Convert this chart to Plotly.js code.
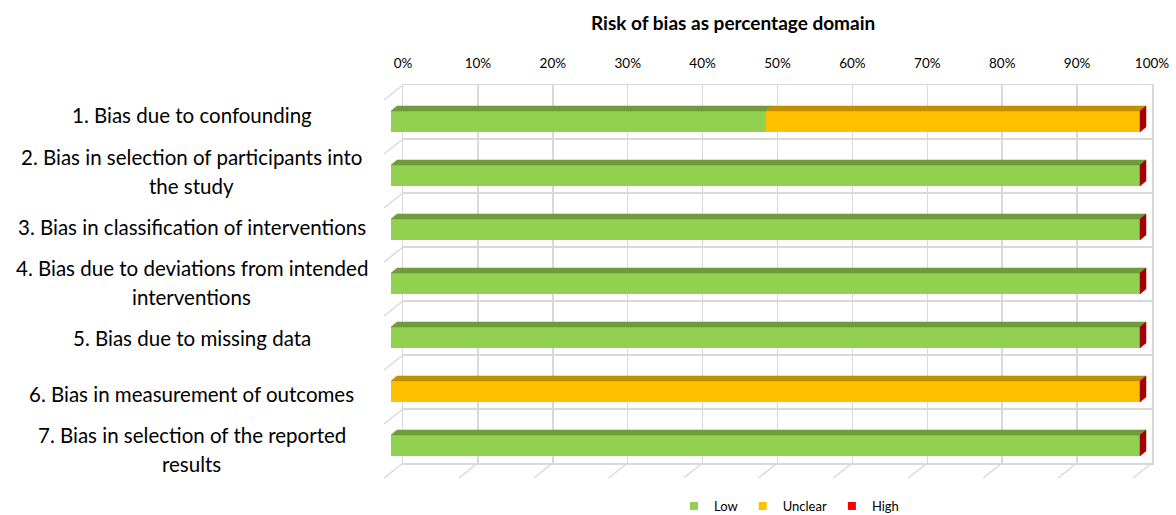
<!DOCTYPE html>
<html>
<head>
<meta charset="utf-8">
<script src="https://cdn.plot.ly/plotly-3.0.1.min.js"></script>
<style>html,body{margin:0;padding:0;background:#fff;}#chart{width:1176px;height:515px;}</style>
</head>
<body>
<div id="chart"></div>
<script>
// ---------- data ----------
const categories = [
  '1. Bias due to confounding',
  '2. Bias in selection of participants into<br>the study',
  '3. Bias in classification of interventions',
  '4. Bias due to deviations from intended<br>interventions',
  '5. Bias due to missing data',
  '6. Bias in measurement of outcomes',
  '7. Bias in selection of the reported<br>results'
];
const seriesNames = ['Low', 'Unclear', 'High'];
const lowValues     = [50, 100, 100, 100, 100,   0, 100];
const unclearValues = [50,   0,   0,   0,   0, 100,   0];
const highValues    = [ 0,   0,   0,   0,   0,   0,   0];
const xTickVals  = [0, 10, 20, 30, 40, 50, 60, 70, 80, 90, 100];
const xTickText  = ['0%', '10%', '20%', '30%', '40%', '50%', '60%', '70%', '80%', '90%', '100%'];
const chartTitle = 'Risk of bias as percentage domain';

// ---------- styles ----------
const W = 1176, H = 515;
const frontColors = ['#92D050', '#FFC000', '#FF0000'];
const topColors   = ['#6F9B3C', '#BF9000', '#BF0000'];
const sideColors  = ['#6A9A33', '#B08400', '#A50000'];
const legendColors = ['#92D050', '#FFC000', '#FF0000'];
const FONT = 'Lato, "Open Sans", sans-serif';
const gridColor = '#D9D9D9';

// back wall pixel box
const backL = 403, backR = 1152, backT = 85, backB = 463;
// front (bar) plane offset
const frontDX = -12, frontDY = 9.5;
const pxPerPct = (backR - backL) / 100;
const x2Max = 101.6;
const barWidth = 0.39;
const nCat = categories.length;
const pxPerCat = (backB - backT) / nCat;
const depthDX = 6 / pxPerPct;      // top-face depth in % units
const depthDY = 5 / pxPerCat;      // top-face depth in category units
const wallDX = -19, wallDY = 15;   // side wall / floor depth in px
// category label placement (px)
const labelCX = 192, labelTop = 115.5, labelStep = 55.7, lineGap = 29;

const seriesValues = [lowValues, unclearValues, highValues];
const idx = categories.map((_, i) => i);

const traces = [];
traces.push({x: [null], y: [null], xaxis: 'x', yaxis: 'y', type: 'scatter', mode: 'markers', showlegend: false, hoverinfo: 'skip'});

// front faces
seriesValues.forEach((vals, s) => {
  traces.push({
    type: 'bar', orientation: 'h', name: seriesNames[s],
    x: vals, y: idx, xaxis: 'x2', yaxis: 'y2',
    width: barWidth, marker: {color: frontColors[s], line: {width: 0}},
    showlegend: false, hoverinfo: 'x+name'
  });
});

// top faces
seriesValues.forEach((vals, s) => {
  const xs = [], ys = [];
  idx.forEach(i => {
    let start = 0;
    for (let k = 0; k < s; k++) start += seriesValues[k][i];
    const end = start + vals[i];
    if (vals[i] <= 0) return;
    const yt = i - barWidth / 2, yb = yt - depthDY;
    xs.push(start, start + depthDX, end + depthDX, end, start, null);
    ys.push(yt, yb, yb, yt, yt, null);
  });
  traces.push({type: 'scatter', mode: 'lines', x: xs, y: ys, xaxis: 'x2', yaxis: 'y2',
    fill: 'toself', fillcolor: topColors[s], line: {width: 0.5, color: topColors[s]},
    showlegend: false, hoverinfo: 'skip'});
});

// right side caps (last series face at stack end)
(function(){
  const last = seriesValues.length - 1;
  const xs = [], ys = [];
  idx.forEach(i => {
    let end = 0;
    seriesValues.forEach(v => end += v[i]);
    const yt = i - barWidth / 2, ybt = i + barWidth / 2;
    xs.push(end, end + depthDX, end + depthDX, end, end, null);
    ys.push(yt, yt - depthDY, ybt - depthDY, ybt, yt, null);
  });
  traces.push({type: 'scatter', mode: 'lines', x: xs, y: ys, xaxis: 'x2', yaxis: 'y2',
    fill: 'toself', fillcolor: sideColors[last], line: {width: 0.5, color: sideColors[last]},
    showlegend: false, hoverinfo: 'skip'});
})();

// legend entries
seriesNames.forEach((n, s) => {
  traces.push({type: 'scatter', mode: 'markers', name: n, x: [null], y: [null], xaxis: 'x', yaxis: 'y',
    marker: {symbol: 'square', size: 8, color: legendColors[s]}, showlegend: true, hoverinfo: 'skip'});
});

// wall/floor diagonals (paper coords derived from the back-wall axis mapping)
const pxX = t => backL + t * pxPerPct;
const pxY = j => backB - j * pxPerCat;
const shapes = [];
const diag = (px, py) => ({type: 'line', xref: 'paper', yref: 'paper',
  x0: px / W, y0: 1 - py / H, x1: (px + wallDX) / W, y1: 1 - (py + wallDY) / H,
  layer: 'below', line: {color: gridColor, width: 1.5}});
xTickVals.forEach(t => shapes.push(diag(pxX(t), pxY(0))));
for (let j = 1; j <= nCat; j++) shapes.push(diag(pxX(0), pxY(j)));

// category labels
const annotations = [];
categories.forEach((c, i) => {
  const lines = c.split('<br>');
  const n = lines.length;
  const cy = labelTop + i * labelStep;
  lines.forEach((ln, k) => {
    const py = cy + (k - (n - 1) / 2) * lineGap;
    annotations.push({text: ln, xref: 'paper', yref: 'paper', x: labelCX / W, y: 1 - py / H,
      xanchor: 'center', yanchor: 'middle', showarrow: false,
      font: {family: FONT, size: 20.5, color: '#000'}});
  });
});
annotations.push({text: '<b>' + chartTitle + '</b>', xref: 'paper', yref: 'paper', x: 733 / W, y: 1 - 22 / H,
  xanchor: 'center', yanchor: 'middle', showarrow: false, font: {family: FONT, size: 19, color: '#000'}});

const layout = {
  width: W, height: H, margin: {l: 0, r: 0, t: 0, b: 0, autoexpand: false},
  paper_bgcolor: '#fff', plot_bgcolor: 'rgba(0,0,0,0)',
  barmode: 'stack', bargap: 0,
  font: {family: FONT, color: '#000'},
  xaxis: {domain: [backL / W, backR / W], range: [0, 100], side: 'top', anchor: 'y',
    tickvals: xTickVals, ticktext: xTickText, tickfont: {family: FONT, size: 13.5, color: '#000'},
    showgrid: true, gridcolor: gridColor, gridwidth: 1.5, zeroline: false,
    showline: true, mirror: true, linecolor: gridColor, linewidth: 1.5, ticks: '', ticklabelstandoff: 10,
    automargin: false, fixedrange: true},
  yaxis: {domain: [1 - backB / H, 1 - backT / H], range: [0, nCat], dtick: 1, tick0: 0, anchor: 'x',
    showticklabels: false, showgrid: true, gridcolor: gridColor, gridwidth: 1.5, zeroline: false,
    showline: true, mirror: true, linecolor: gridColor, linewidth: 1.5, ticks: '', automargin: false, fixedrange: true},
  xaxis2: {domain: [(backL + frontDX) / W, (backL + frontDX + x2Max * pxPerPct) / W], range: [0, x2Max],
    anchor: 'y2', visible: false, fixedrange: true},
  yaxis2: {domain: [1 - (backB + frontDY) / H, 1 - (backT + frontDY) / H], range: [nCat - 0.5, -0.5],
    anchor: 'x2', visible: false, fixedrange: true},
  legend: {orientation: 'h', x: 789 / W, y: 1 - 506 / H, xanchor: 'center', yanchor: 'middle', traceorder: 'normal',
    font: {family: FONT, size: 13, color: '#000'}, itemwidth: 30, bgcolor: 'rgba(0,0,0,0)'},
  shapes: shapes, annotations: annotations, showlegend: true
};

Plotly.newPlot('chart', traces, layout, {displayModeBar: false, staticPlot: true});
</script>
</body>
</html>
